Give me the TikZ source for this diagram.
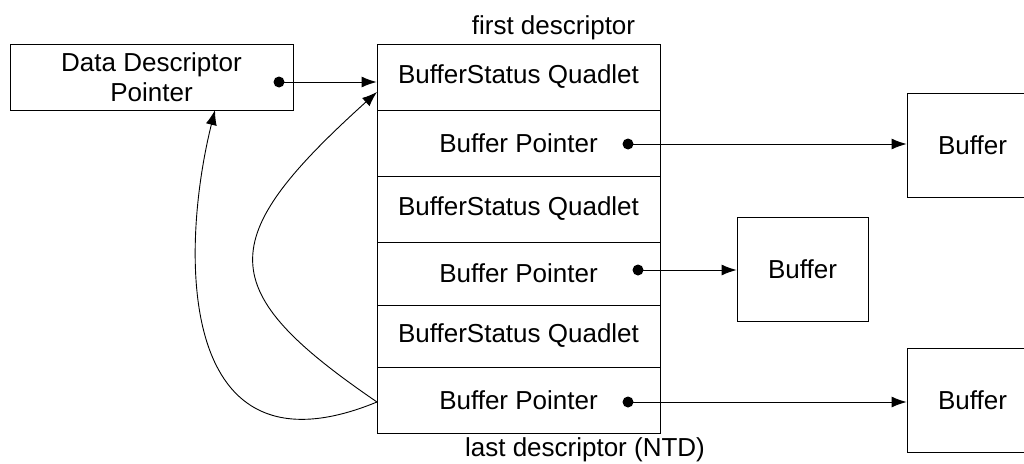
\documentclass[tikz,border=0pt]{standalone}
\usepackage{fontspec}
\setmainfont{Liberation Sans}
\usetikzlibrary{arrows.meta}
\begin{document}
\begin{tikzpicture}[x=1pt,y=-1pt,
  box/.style={draw, line width=0.9pt, inner sep=0pt, font=\fontsize{26}{30}\selectfont},
  lbl/.style={inner sep=0pt, font=\fontsize{26}{30}\selectfont},
  row/.style={box, minimum width=283pt},
  buf/.style={box, minimum width=131pt, minimum height=104pt},
  conn/.style={line width=0.9pt, -{Latex[length=15pt,width=11pt]}},
  dotc/.style={circle, fill, inner sep=0pt, minimum size=11pt}]
\useasboundingbox (0,0) rectangle (1024,463);
% left pointer box
\node[box, minimum width=283pt, minimum height=66pt, align=center] (ddp) at (151.5,77) {Data Descriptor\\Pointer};
% descriptor column
\node[row, minimum height=66pt] (r1) at (518.5,77) {BufferStatus Quadlet};
\node[row, minimum height=66pt] (r2) at (518.5,143) {Buffer Pointer};
\node[row, minimum height=66pt] (r3) at (518.5,209) {BufferStatus Quadlet};
\node[row, minimum height=63pt] (r4) at (518.5,273.5) {Buffer Pointer};
\node[row, minimum height=62pt] (r5) at (518.5,336) {BufferStatus Quadlet};
\node[row, minimum height=66pt] (r6) at (518.5,400) {Buffer Pointer};
% buffers
\node[buf] (b1) at (972.5,145) {Buffer};
\node[buf] (b2) at (802.5,269) {Buffer};
\node[buf] (b3) at (972.5,400) {Buffer};
% labels
\node[lbl, anchor=base] (first) at (553.5,34) {first descriptor};
\node[lbl, anchor=base] (last) at (585,456) {last descriptor (NTD)};
% dots
\node[dotc] (d0) at (279,82) {};
\node[dotc] (d2) at (628,144) {};
\node[dotc] (d4) at (638,270) {};
\node[dotc] (d6) at (628,402) {};
% straight connectors
\draw[conn] (d0.center) -- (d0 -| r1.west);
\draw[conn] (d2.center) -- (d2 -| b1.west);
\draw[conn] (d4.center) -- (d4 -| b2.west);
\draw[conn] (d6.center) -- (d6 -| b3.west);
% curved connectors
\coordinate (ddpin) at (215,110);
\coordinate (r1in) at (377,92);
\coordinate (src) at (377,402);
\draw[conn] (src) .. controls (175,485) and (180,250) .. (ddpin);
\draw[conn] (src) .. controls (213,290) and (213,240) .. (r1in);
\end{tikzpicture}
\end{document}
